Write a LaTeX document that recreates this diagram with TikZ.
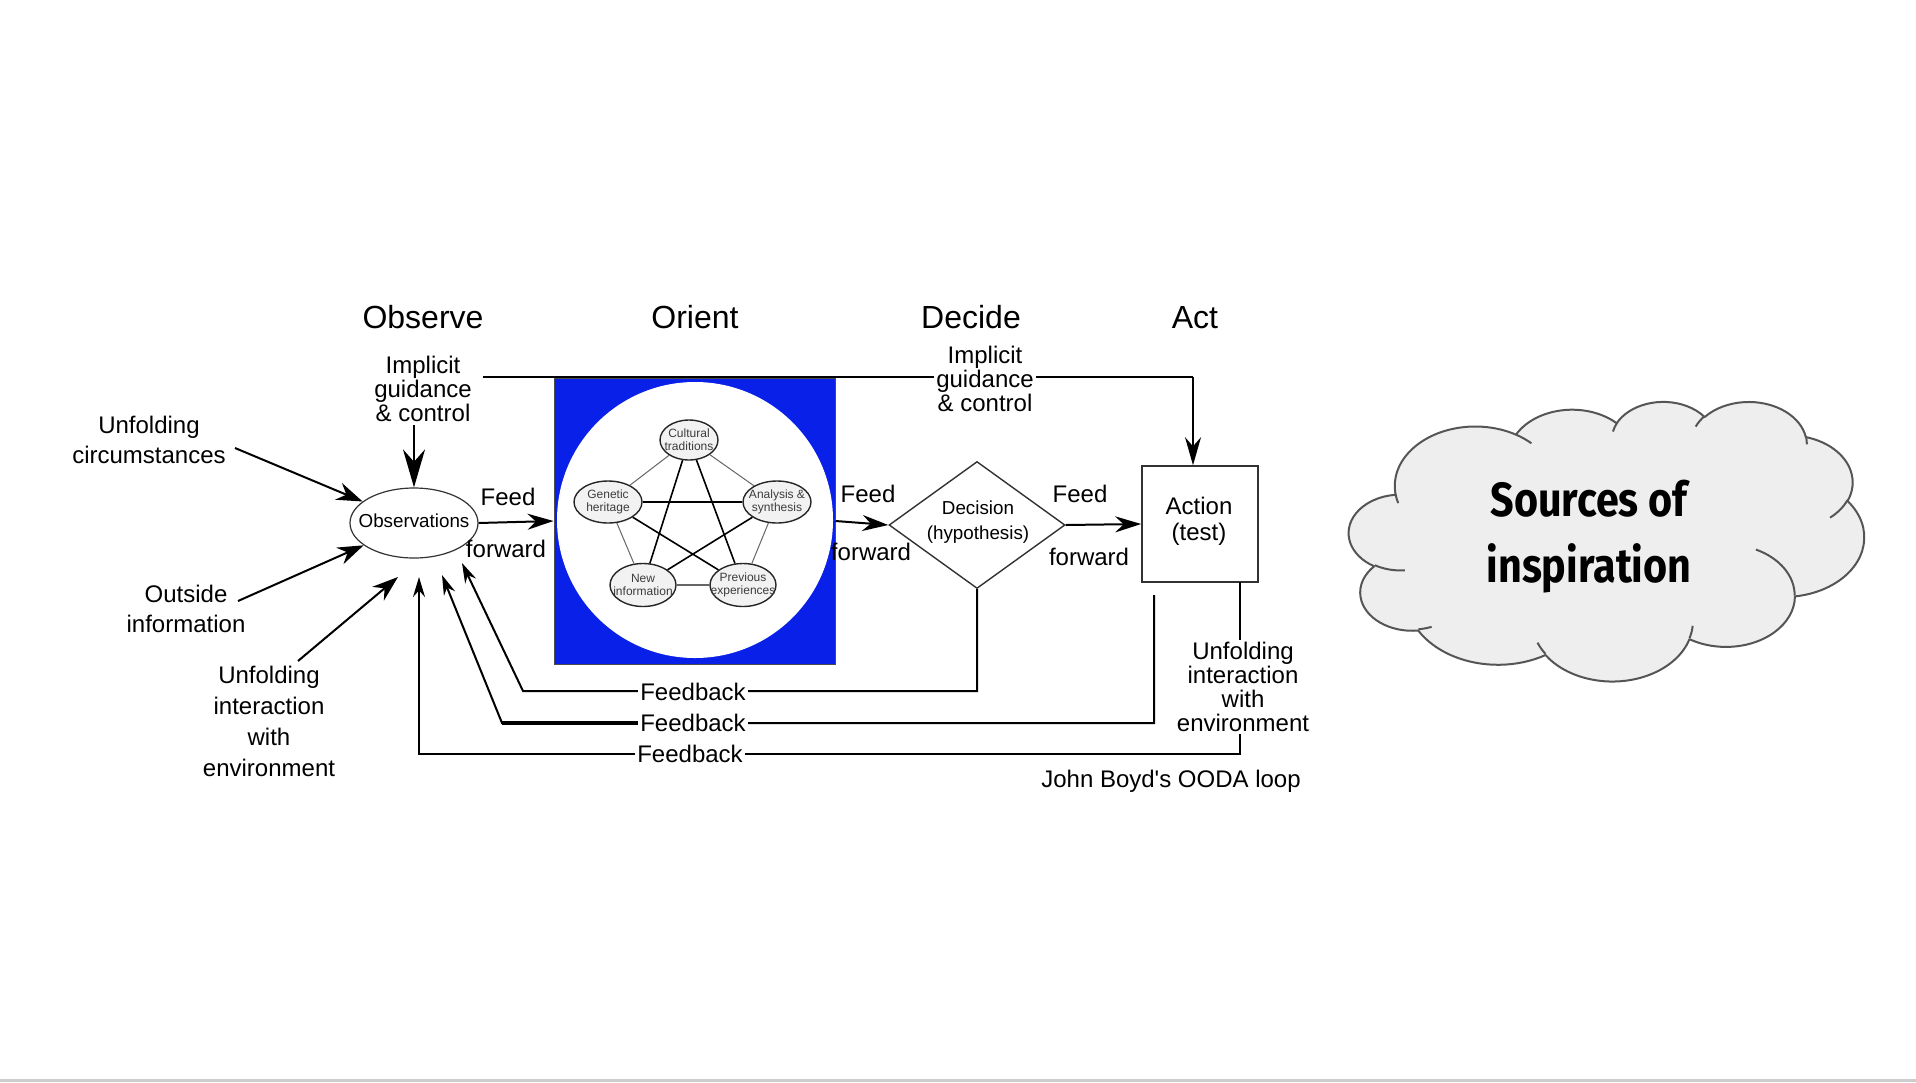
\documentclass[tikz,border=0pt]{standalone}
\usepackage{fontspec}
\usepackage{graphicx}
\setmainfont{Liberation Sans}
\newfontfamily\cloudfont{Fira Sans}
\usetikzlibrary{shapes.geometric,arrows.meta}
\definecolor{orientblue}{RGB}{8,32,232}
\definecolor{cloudfill}{RGB}{238,238,238}
\definecolor{cloudline}{RGB}{85,85,85}
\definecolor{boxline}{RGB}{50,50,50}
\definecolor{pentfill}{RGB}{242,242,242}
\definecolor{penttext}{RGB}{60,60,60}
% elliptic arc given as in a preset shape: radii, visual start angle, sweep
\newcommand\carc[4]{arc[x radius=#1, y radius=#2,
  start angle={atan2((#1)*sin(#3),(#2)*cos(#3))},
  delta angle={mod(atan2((#1)*sin((#3)+(#4)),(#2)*cos((#3)+(#4)))-atan2((#1)*sin(#3),(#2)*cos(#3))+540,360)-180}]}
\begin{document}
\begin{tikzpicture}[x=0.5pt,y=-0.5pt,
  txt/.style={font=\fontsize{12}{12.2}\selectfont, align=center, inner sep=0pt},
  txtw/.style={txt, fill=white, inner sep=1pt},
  head/.style={font=\fontsize{16}{19}\selectfont, inner sep=0pt},
  small/.style={font=\fontsize{9.4}{12.2}\selectfont, align=center, inner sep=0pt},
  pent/.style={ellipse, draw=black!85, line width=0.7pt, fill=pentfill, minimum width=33pt, minimum height=21.5pt, inner sep=0pt},
  ptxt/.style={font=\fontsize{6}{6.6}\selectfont, text=penttext, align=center, inner sep=0pt},
  ln/.style={line width=1pt, draw=black},
  thinln/.style={line width=0.5pt, draw=black!60},
  starln/.style={line width=0.8pt, draw=black},
  cloudln/.style={line width=1pt, draw=cloudline, line join=round},
  tipA/.style={-{Stealth[length=13pt,width=9pt]}},
  tipF/.style={-{Stealth[length=13pt,width=8pt]}},
  tipB/.style={-{Stealth[length=10pt,width=6pt]}},
  tipBig/.style={-{Stealth[length=19pt,width=11pt]}},
  tipR/.style={-{Stealth[length=14pt,width=8pt]}}
]
\useasboundingbox (0,0) rectangle (1916,1082);
\fill[white] (0,0) rectangle (1916,1082);
\fill[black!20] (0,1079) rectangle (1916,1082);

% headings
\node[head] (hObs) at (423,317) {Observe};
\node[head] (hOri) at (695,317) {Orient};
\node[head] (hDec) at (971,317) {Decide};
\node[head] (hAct) at (1195,318) {Act};

% orient block
\node[rectangle, draw=black!70, line width=0.5pt, fill=orientblue, minimum width=140.5pt, minimum height=143pt, inner sep=0pt] (ori) at (694.5,521) {};
\node[circle, fill=white, minimum size=138pt, inner sep=0pt] (oc) at (695,520) {};
\node[pent, minimum width=29pt, minimum height=20pt] (pC) at (689,440) {};
\node[pent, minimum width=34pt, minimum height=21pt] (pG) at (608,502) {};
\node[pent, minimum width=34pt, minimum height=21pt] (pA) at (777,502) {};
\node[pent] (pN) at (643,585) {};
\node[pent] (pP) at (743,585) {};
\draw[thinln] (pC) -- (pG);
\draw[thinln] (pC) -- (pA);
\draw[thinln] (pG) -- (pN);
\draw[thinln] (pA) -- (pP);
\draw[thinln, line width=0.7pt] (pN) -- (pP);
\draw[starln] (pC) -- (pN);
\draw[starln] (pC) -- (pP);
\draw[starln] (pG) -- (pA);
\draw[starln] (pG) -- (pP);
\draw[starln] (pA) -- (pN);
\node[ptxt] (tC) at (pC) {Cultural\\traditions};
\node[ptxt] (tG) at (pG) {Genetic\\heritage};
\node[ptxt] (tA) at (pA) {Analysis \&\\synthesis};
\node[ptxt] (tN) at (pN) {New\\information};
\node[ptxt] (tP) at (pP) {Previous\\experiences};

% observations
\node[ellipse, draw=black!80, line width=0.6pt, fill=white, minimum width=64pt, minimum height=35pt, inner sep=0pt] (obs) at (414,523) {};
\node[small] (obsT) at (414,521) {Observations};

% decision and action
\node[diamond, draw=boxline, line width=0.7pt, fill=white, minimum width=88pt, minimum height=63.5pt, inner sep=0pt] (dec) at (977,525) {};
\node[small] (decT) at (978,522) {Decision\\(hypothesis)};
\node[rectangle, draw=boxline, line width=0.8pt, fill=white, minimum width=58pt, minimum height=58pt, inner sep=0pt] (act) at (1200,524) {};
\node[font=\fontsize{12}{12.8}\selectfont, align=center, inner sep=0pt] (actT) at (1199,521) {Action\\(test)};

% left inputs
\node[txt, font=\fontsize{12}{15.25}\selectfont] (uc) at (149,440) {Unfolding\\circumstances};
\node[txt, font=\fontsize{12}{15.25}\selectfont] (oi) at (186,609) {Outside\\information};
\node[txt, font=\fontsize{12}{15.5}\selectfont] (ui) at (269,721) {Unfolding\\interaction\\with\\environment};
\node[txt] (impL) at (423,389) {Implicit\\guidance\\\& control};

\coordinate (ucS) at (235,448);
\coordinate (oiS) at (238,601);
\coordinate (uiS) at (298,661);
\coordinate (uiE) at (398,577);
\coordinate (impS) at (414,425);
\draw[ln, tipA] (ucS) -- (obs);
\draw[ln, tipA] (oiS) -- (obs);
\draw[ln, tipA] (uiS) -- (uiE);
\draw[ln, tipBig] (impS) -- (obs.north);

% feed forward
\draw[ln, tipF] (obs.east) -- (ori.west);
\draw[ln, tipF] (ori.east) -- (dec.west);
\draw[ln, tipF] (dec.east) -- (act.west);
\node[txt] (ff1a) at (508,497) {Feed};
\node[txt] (ff1b) at (506,549) {forward};
\node[txt] (ff2a) at (868,494) {Feed};
\node[txt] (ff2b) at (871,552) {forward};
\node[txt] (ff3a) at (1080,494) {Feed};
\node[txt] (ff3b) at (1089,557) {forward};

% implicit guidance to action
\coordinate (tlA) at (483,377);
\coordinate (tlB) at (1193,377);
\draw[ln] (tlA) -- (tlB);
\draw[ln, tipR] (tlB) -- (act.north -| tlB);
\node[txtw] (impR) at (985,379) {Implicit\\guidance\\\& control};

% feedback loops
\coordinate (f1a) at (977,691);
\coordinate (f1b) at (523,691);
\coordinate (f1e) at (462,563);
\draw[ln, tipB] (dec.south) -- (f1a) -- (f1b) -- (f1e);
\coordinate (f2s) at (1154,595);
\coordinate (f2a) at (1154,723);
\coordinate (f2b) at (502,723);
\coordinate (f2e) at (442,575);
\draw[ln, tipB] (f2s) -- (f2a) -- (f2b) -- (f2e);
\draw[line width=1.6pt] (f2b) -- (640,723);
\coordinate (f3s) at (1240,582);
\coordinate (f3a) at (1240,754);
\coordinate (f3b) at (419,754);
\coordinate (f3e) at (419,577);
\draw[ln, tipB] (f3s) -- (f3a) -- (f3b) -- (f3e);
\node[txtw] (fb1) at (693,692) {Feedback};
\node[txtw] (fb2) at (693,723) {Feedback};
\node[txtw] (fb3) at (690,754) {Feedback};
\node[txtw, font=\fontsize{12}{12}\selectfont] (uiR) at (1243,687) {Unfolding\\interaction\\with\\environment};

\node[txt] (title) at (1171,781) {John Boyd\textquotesingle s OODA loop};

% cloud (preset cloud outline in a 432 x 432 frame)
\begin{scope}[shift={(674.5pt,-200.5pt)}, x=0.5961pt, y=-0.3235pt]
\filldraw[cloudln, fill=cloudfill] (39,143.7)
  \carc{67.53}{91.90}{-190.487}{123.781}
  \carc{53.33}{72.67}{-144.102}{89.945}
  \carc{43.65}{59.45}{-145.808}{99.723}
  \carc{48.57}{65.95}{-130.986}{117.242}
  \carc{53.33}{72.73}{-78.709}{109.027}
  \carc{67.75}{92.20}{-46.267}{130.269}
  \carc{57.85}{78.67}{0.625}{114.033}
  \carc{67.52}{92.15}{22.452}{115.173}
  \carc{77.20}{105.43}{66.243}{75.711}
  \carc{43.60}{59.18}{-274.942}{146.736}
  \carc{43.45}{59.45}{-246.829}{152.519} -- cycle;
\draw[cloudln]
  (46.93,261.77) \carc{43.45}{59.45}{86.742}{26.430}
  (69.28,348.99) \carc{43.60}{59.18}{73.610}{11.447}
  (164.78,390.90) \carc{67.52}{92.15}{137.624}{14.081}
  (288.27,347.51) \carc{67.52}{92.15}{6.453}{15.998}
  (341.29,229.54) \carc{57.85}{78.67}{-70.292}{70.917}
  (417.98,153.54) \carc{53.33}{72.73}{30.318}{27.752}
  (383.24,54.26) \carc{48.57}{65.95}{-13.744}{14.859}
  (290.78,39.52) \carc{48.57}{65.95}{-149.181}{18.195}
  (221.41,47.20) \carc{43.65}{59.45}{-163.494}{17.686}
  (140.00,51.92) \carc{67.53}{91.90}{-66.707}{12.319}
  (41.27,157.89) \carc{67.53}{91.90}{157.654}{11.858};
\end{scope}
\node[font=\cloudfont\bfseries\fontsize{24}{33}\selectfont, align=center, inner sep=0pt] (clT) at (1589,537) {\scalebox{0.86}[1]{Sources of}\\\scalebox{0.86}[1]{inspiration}};
\end{tikzpicture}
\end{document}
